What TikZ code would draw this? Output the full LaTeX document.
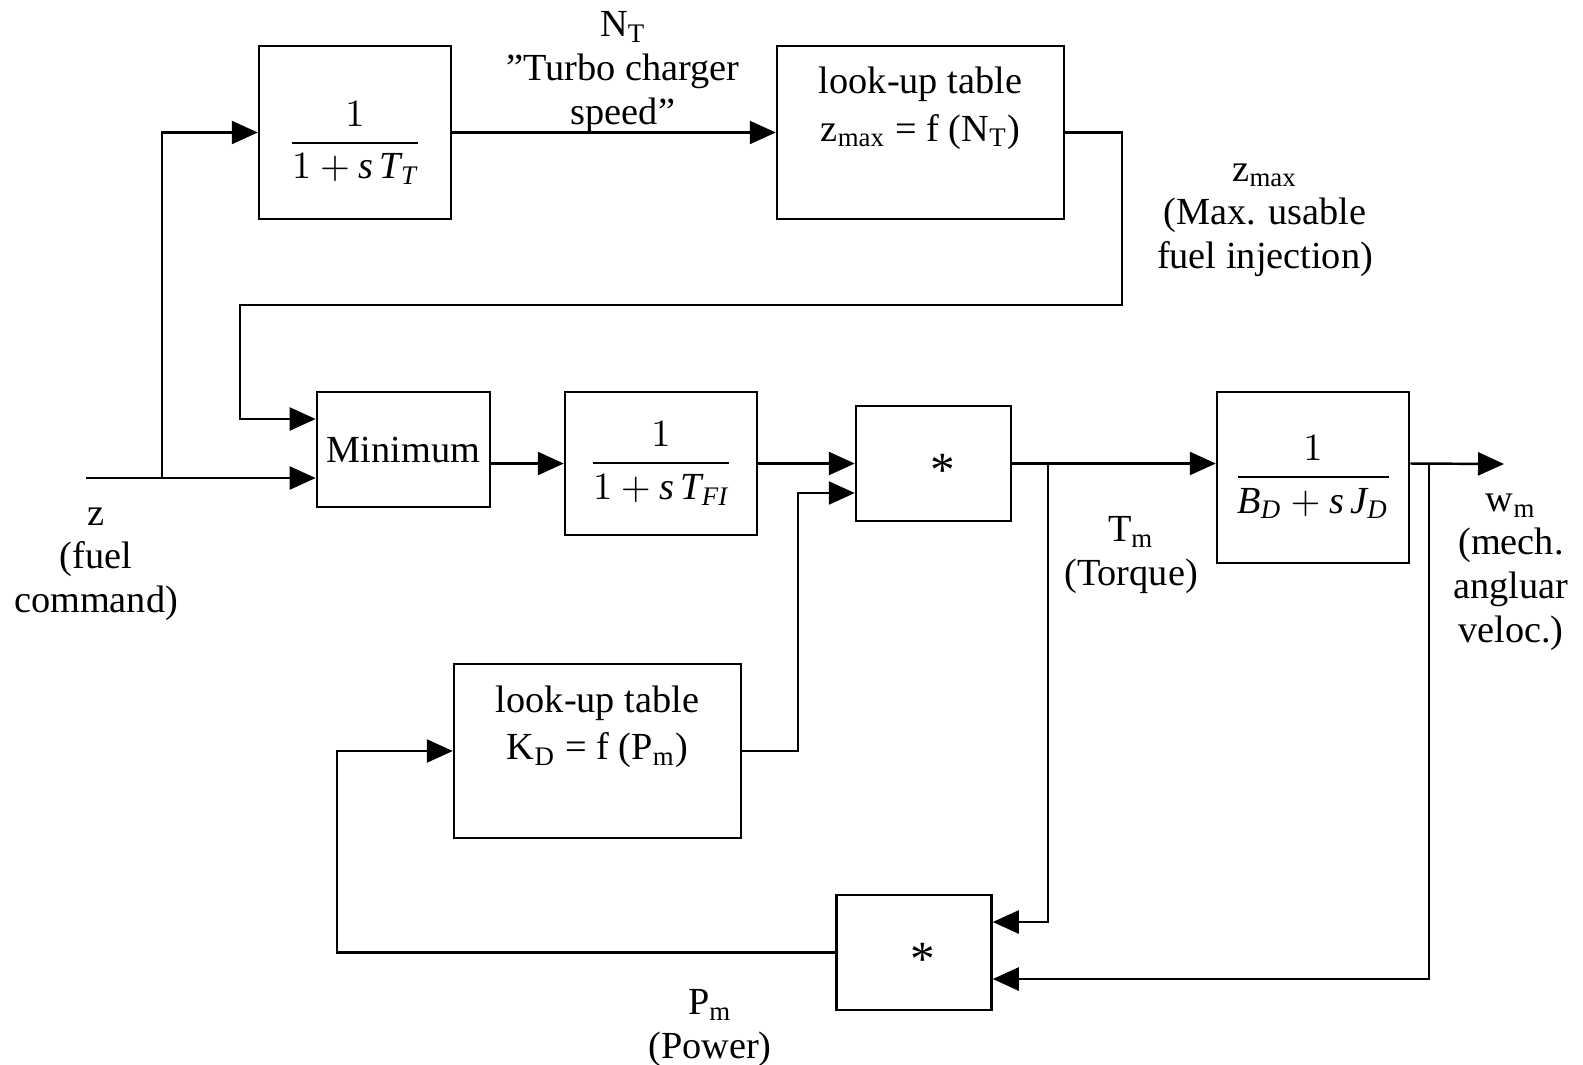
\documentclass[tikz,border=0pt]{standalone}
\usepackage{amsmath}
\usepackage{fontspec}
\setmainfont{Liberation Serif}
\usetikzlibrary{arrows.meta,positioning,calc}
\tikzset{blk/.style={draw,line width=0.7pt,minimum width=19.2mm,minimum height=17.3mm,align=center,inner sep=1mm},sig/.style={-{Triangle[length=2.6mm,width=2.3mm]},line width=0.7pt},lbl/.style={align=center}}

\begin{document}
\begin{tikzpicture}[font=\fontsize{10.9}{12.4}\selectfont]
\useasboundingbox (0,0) rectangle (15.83,10.64);
% blocks
\node[blk] (tt) at (3.55,9.315) {\raisebox{-2mm}[0pt][0pt]{$\dfrac{1}{1+\textit{s\,T}_{\textit{T}}}$}};
\node[blk,minimum width=28.7mm] (lut1) at (9.205,9.315) {look-up table\\[1pt]z\textsubscript{max} = f (N\textsubscript{T})\\ \strut};
\node[blk,minimum width=17.3mm,minimum height=11.5mm] (min) at (4.035,6.145) {Minimum};
\node[blk,minimum height=14.3mm] (tfi) at (6.61,6.005) {$\dfrac{1}{1+\textit{s\,T}_{\textit{FI}}}$};
\node[blk,minimum height=17.1mm] (bd) at (13.13,5.865) {$\dfrac{1}{\textit{B}_{\textit{D}}+\textit{s\,J}_{\textit{D}}}$};
\node[blk,minimum width=28.7mm,minimum height=17.4mm] (lut2) at (5.975,3.13) {look-up table\\[1pt]K\textsubscript{D} = f (P\textsubscript{m})\\ \strut};
\foreach \n/\xx/\yy in {m1/9.335/6.005,m2/9.14/1.115}{\node[blk,minimum width=15.5mm,minimum height=11.5mm] (\n) at (\xx,\yy) {\raisebox{-2.3mm}[0pt][0pt]{\hspace{1.8mm}\fontsize{14}{14}\selectfont *}};}
% signals
\coordinate (zin) at (0.86,5.86);
\coordinate (zsp) at (1.62,5.86);
\coordinate (tsp) at (10.48,6.0);
\coordinate (wsp) at (14.29,6.0);
\coordinate (wout) at (15.04,6.0);
\draw[sig] (zin) -- (zin -| min.west);
\draw[sig] (zsp) |- (tt.west);
\draw[sig] (tt.east) -- (lut1.west);
\draw[sig] (lut1.east) -- ++(0.57,0) |- (2.40,7.59) |- ($(min.west)+(0,0.305)$);
\draw[sig] (min.east |- tfi.west) -- (tfi.west);
\draw[sig] (tfi.east) -- (m1.west);
\draw[sig] (lut2.east) -| ($(m1.west)+(-0.57,-0.295)$) -- ($(m1.west)+(0,-0.295)$);
\draw[sig] (m1.east) -- (m1.east -| bd.west);
\draw[sig] (bd.east |- m1.east) -- (wout);
\draw[sig] (tsp) |- ($(m2.east)+(0,0.305)$);
\draw[sig] (wsp) |- ($(m2.east)+(0,-0.265)$);
\draw[sig] (m2.west) -| ($(lut2.west)+(-1.16,0)$) -- (lut2.west);
% labels
\node[lbl] (nt) at (6.23,9.92) {N\textsubscript{T}\\”Turbo charger\\speed”};
\node[lbl] (zmx) at (12.65,8.44) {z\textsubscript{max}\\(Max. usable\\fuel injection)};
\node[lbl] (zl) at (0.96,5.0) {z\\(fuel\\command)};
\node[lbl] (tm) at (11.31,5.09) {T\textsubscript{m}\\(Torque)};
\node[lbl] (wm) at (15.11,4.92) {w\textsubscript{m}\\(mech.\\angluar\\veloc.)};
\node[lbl] (pm) at (7.1,0.36) {P\textsubscript{m}\\(Power)};
\end{tikzpicture}
\end{document}
